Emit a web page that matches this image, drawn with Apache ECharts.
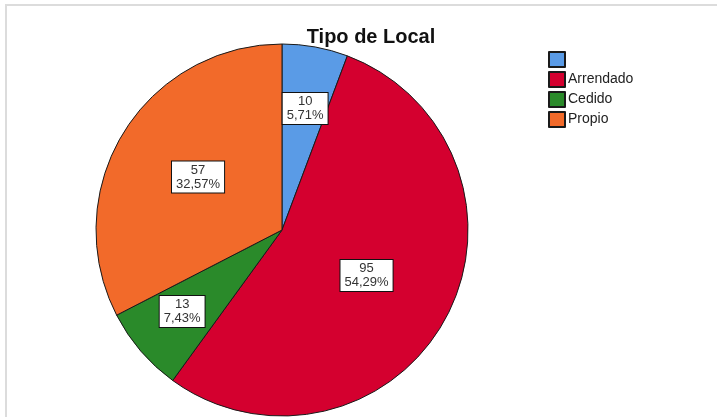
<!DOCTYPE html>
<html>
<head>
<meta charset="utf-8">
<script src="https://cdn.jsdelivr.net/npm/echarts@6/dist/echarts.min.js"></script>
<style>
  html, body { margin: 0; padding: 0; background: #fff; }
  #main { width: 717px; height: 417px; }
</style>
</head>
<body>
<div id="main"></div>
<script>
// datos del gráfico
var categorias = [' ', 'Arrendado', 'Cedido', 'Propio'];
var frecuencias = [10, 95, 13, 57];
var porcentajes = ['5,71%', '54,29%', '7,43%', '32,57%'];

// estilos
var colores = ['#5a9be6', '#d4002f', '#2a8a2a', '#f26a2a'];
var desplazamientos = [[6, -27], [0, 0], [-27, 19], [-2, -3]];

var datos = categorias.map(function (c, i) {
    return {
        name: c,
        value: frecuencias[i],
        itemStyle: { color: colores[i] },
        label: { offset: desplazamientos[i] }
    };
});

var myChart = echarts.init(document.getElementById('main'));
var option = {
    animation: false,
    backgroundColor: '#fff',
    title: {
        text: 'Tipo de Local',
        left: 366,
        textAlign: 'center',
        top: 22,
        textStyle: {
            fontFamily: 'Liberation Sans, Arial',
            fontSize: 20,
            fontWeight: 'bold',
            color: '#111'
        }
    },
    legend: {
        orient: 'vertical',
        left: 543,
        top: 46,
        itemWidth: 16,
        itemHeight: 15,
        itemGap: 3,
        icon: 'rect',
        data: categorias,
        textStyle: {
            fontFamily: 'Liberation Sans, Arial',
            fontSize: 14,
            color: '#222',
            padding: [0, 0, 0, -2]
        }
    },
    graphic: [{
        type: 'rect',
        shape: { x: 6, y: 5, width: 900, height: 600 },
        style: { fill: 'none', stroke: '#dcdcdc', lineWidth: 2 },
        silent: true
    }],
    series: [{
        type: 'pie',
        center: [282, 230],
        radius: 186,
        startAngle: 90,
        clockwise: true,
        data: datos,
        itemStyle: { borderColor: '#1a1a1a', borderWidth: 1 },
        emphasis: { disabled: true },
        labelLine: { show: false },
        label: {
            show: true,
            position: 'inside',
            formatter: function (p) {
                return frecuencias[p.dataIndex] + '\n' + porcentajes[p.dataIndex];
            },
            fontFamily: 'Liberation Sans, Arial',
            fontSize: 13,
            lineHeight: 14,
            color: '#333',
            backgroundColor: '#fff',
            borderColor: '#111',
            borderWidth: 1,
            padding: [2, 4, 1, 4]
        }
    }]
};
myChart.setOption(option);
</script>
</body>
</html>
